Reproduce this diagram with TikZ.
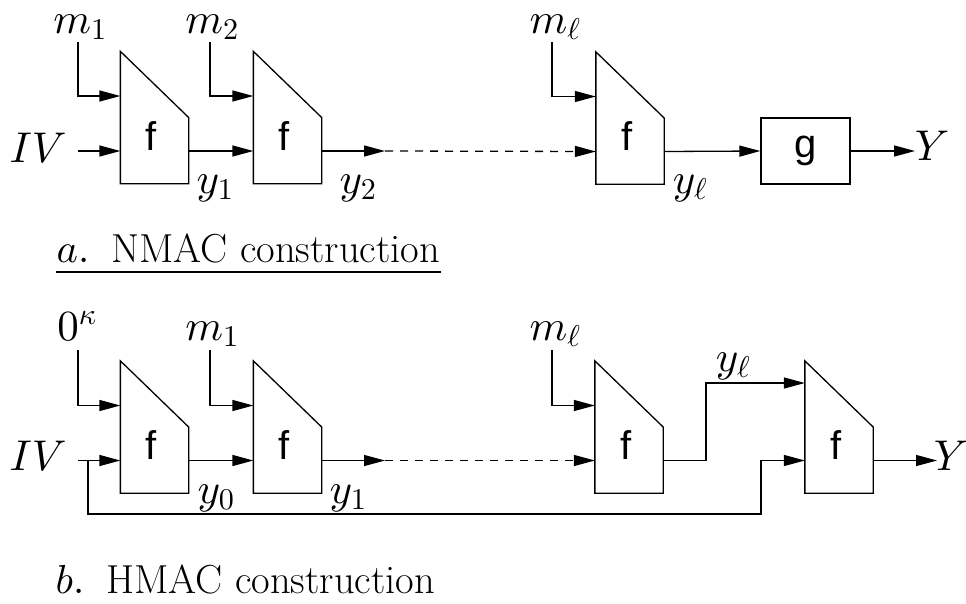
\documentclass[tikz,border=0pt]{standalone}
\usepackage{fontspec}
\newfontfamily\helv{Liberation Sans}
\DeclareFontShape{OML}{cmm}{m}{it}{<->cmmi10}{}
\DeclareFontShape{OT1}{cmr}{m}{n}{<->cmr10}{}
\DeclareFontShape{OMS}{cmsy}{m}{n}{<->cmsy10}{}
\usetikzlibrary{arrows.meta,calc}
\newcommand\drawF[1]{%
  \draw (#1.north west) -- (#1.east) -- (#1.south east) -- (#1.south west) -- cycle;
  \node[flab] (#1-l) at ($(#1.center)+(-3,32.5)$) {f};
  \coordinate (#1-in) at ($(#1.west)+(0,33.5)$);
  \coordinate (#1-out) at ($(#1.east)+(0,33.5)$);
  \coordinate (#1-top) at ($(#1.west)+(0,-21.5)$);
}
\begin{document}
\begin{tikzpicture}[x=1pt,y=-1pt, line width=1.3pt,
  every node/.style={inner sep=0pt, font=\fontsize{43}{50}\selectfont},
  fshape/.style={minimum width=67pt, minimum height=131pt, inner sep=0pt},
  arr/.style={-{Triangle[length=21pt,width=11pt]}},
  flab/.style={font=\fontsize{40}{46}\selectfont\helv, anchor=base},
  lab/.style={anchor=base},
  captxt/.style={anchor=base west, font=\fontsize{40.5}{46}\selectfont}]
\useasboundingbox (0,0) rectangle (966,603);

% ---------- part a ----------
\node[fshape] (fa1) at (154.5,117.5) {};
\node[fshape] (fa2) at (287.5,117.5) {};
\node[fshape] (fal) at (630,118) {};
\drawF{fa1}\drawF{fa2}\drawF{fal}
\node[draw, minimum width=89pt, minimum height=66pt, font=\fontsize{40}{46}\selectfont\helv] (g) at (805.5,151) {g};

\node[lab] (IVa) at (38,162) {$IV$};
\coordinate (IVa-s) at (78,151);
\draw[arr] (IVa-s) -- (fa1-in);

\node[lab] (ma1) at (80,33) {$m_1$};
\coordinate (ma1-s) at (78,42);
\draw[arr] (ma1-s) |- (fa1-top);
\node[lab] (ma2) at (212,33) {$m_2$};
\coordinate (ma2-s) at (210,42);
\draw[arr] (ma2-s) |- (fa2-top);
\node[lab] (mal) at (555,33) {$m_\ell$};
\coordinate (mal-s) at (552,42);
\draw[arr] (mal-s) |- (fal-top);

\draw[arr] (fa1-out) -- (fa2-in);
\coordinate (da) at (385,151);
\draw[arr] (fa2-out) -- (da);
\draw[arr, dash pattern=on 8pt off 7pt] (da) -- (fal-in);
\draw[arr] (fal-out) -- (g.west);
\coordinate (Ya-e) at (915,151);
\draw[arr] (g.east) -- (Ya-e);
\node[lab] (Ya) at (932,160) {$Y$};

\node[lab] (ya1) at (215,193) {$y_1$};
\node[lab] (ya2) at (358,193) {$y_2$};
\node[lab] (yal) at (690,193) {$y_\ell$};

\node[captxt] (capa) at (56,262) {$a.$\hspace{22pt}NMAC construction};
\draw ($(capa.base west)+(0,10)$) -- ($(capa.base east)+(0,10)$);

% ---------- part b ----------
\node[fshape] (fb1) at (154.5,427) {};
\node[fshape] (fb2) at (287.5,427) {};
\node[fshape] (fbl) at (629,427) {};
\node[fshape] (ff) at (839,427) {};
\drawF{fb1}\drawF{fb2}\drawF{fbl}\drawF{ff}
\coordinate (ff-top2) at ($(ff.west)+(0,-44)$);

\node[lab] (IVb) at (38,470) {$IV$};
\coordinate (IVb-s) at (78,460.5);
\draw[arr] (IVb-s) -- (fb1-in);
\coordinate (br) at (88,460.5);
\coordinate (fbk) at (761,514);
\draw[arr] (br) |- (fbk) |- (ff-in);

\node[lab] (k0) at (77,340) {$0^\kappa$};
\coordinate (k0-s) at (78,350);
\draw[arr] (k0-s) |- (fb1-top);
\node[lab] (mb1) at (212,340) {$m_1$};
\coordinate (mb1-s) at (210,350);
\draw[arr] (mb1-s) |- (fb2-top);
\node[lab] (mbl) at (555,340) {$m_\ell$};
\coordinate (mbl-s) at (552,350);
\draw[arr] (mbl-s) |- (fbl-top);

\draw[arr] (fb1-out) -- (fb2-in);
\coordinate (db) at (385,460.5);
\draw[arr] (fb2-out) -- (db);
\draw[arr, dash pattern=on 8pt off 7pt] (db) -- (fbl-in);
\coordinate (ylk) at (706,383);
\draw[arr] (fbl-out) -| (ylk) -- (ff-top2);
\coordinate (Yb-e) at (937,460.5);
\draw[arr] (ff-out) -- (Yb-e);
\node[lab] (Yb) at (951,470) {$Y$};

\node[lab] (yb0) at (216,503) {$y_0$};
\node[lab] (yb1) at (348,503) {$y_1$};
\node[lab] (ybl) at (733,371) {$y_\ell$};

\node[captxt] (capb) at (55,593) {$b.$\hspace{22pt}HMAC construction};
\end{tikzpicture}
\end{document}
